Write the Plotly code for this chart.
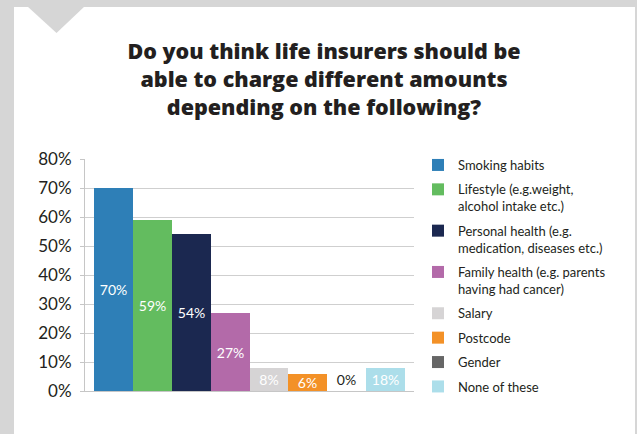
import plotly.graph_objects as go

# ---- data ----
categories = ["Smoking habits",
              "Lifestyle (e.g.weight,<br>alcohol intake etc.)",
              "Personal health (e.g.<br>medication, diseases etc.)",
              "Family health (e.g. parents<br>having had cancer)",
              "Salary", "Postcode", "Gender", "None of these"]
values = [70, 59, 54, 27, 8, 6, 0, 8]          # bar heights as drawn
labels = ["70%", "59%", "54%", "27%", "8%", "6%", "0%", "18%"]  # printed labels
colors = ["#2e7fb7", "#63bc5f", "#1b2850", "#b36aa9", "#d6d4d5",
          "#f39127", "#666666", "#acdeea"]
label_colors = ["white"] * 6 + ["#231f20", "white"]
y_ticks = [0, 10, 20, 30, 40, 50, 60, 70, 80]
y_ticklabels = [f"{t}%" for t in y_ticks]

FONT = "Lato, 'Open Sans', sans-serif"
TITLE_FONT = "'Open Sans', Lato, sans-serif"
TXT = "#231f20"
BORDER = "#d6d6d6"

# pixel geometry of plot area
W, H = 637, 434
L, R, T, B = 85, 414, 159, 391

def px(x):
    return (x - L) / (R - L)

def py(y):
    return (B - y) / (B - T)

fig = go.Figure()
for i, (cat, v, lab, c, lc) in enumerate(zip(categories, values, labels, colors, label_colors)):
    fig.add_trace(go.Bar(
        x=[i], y=[v], width=[1], name=cat, legendgroup=str(i),
        marker=dict(color=c, line=dict(width=0)),
        text=[lab],
        textposition="outside" if v == 0 else "inside",
        insidetextanchor="middle",
        constraintext="none",
        textangle=0,
        textfont=dict(family=FONT, size=14, color=lc),
        cliponaxis=False,
        hoverinfo="skip",
    ))

shapes = [
    # white panel
    dict(type="rect", xref="paper", yref="paper", layer="below",
         x0=px(14), x1=px(635), y0=py(7), y1=py(H + 5),
         fillcolor="white", line=dict(width=0)),
    # notch
    dict(type="path", xref="paper", yref="paper", layer="below",
         path=f"M{px(27)},{py(6)} L{px(85)},{py(6)} L{px(56.5)},{py(33)} Z",
         fillcolor=BORDER, line=dict(width=0)),
]

fig.update_layout(
    width=W, height=H,
    margin=dict(l=L, r=W - R, t=T, b=H - B, pad=0, autoexpand=False),
    paper_bgcolor=BORDER, plot_bgcolor="rgba(0,0,0,0)",
    barmode="overlay", bargap=0,
    shapes=shapes,
    title=dict(text="Do you think life insurers should be<br>able to charge different amounts<br>depending on the following?",
               x=px(324), xref="paper", xanchor="center",
               y=1 - 59 / H, yref="container", yanchor="top",
               font=dict(family=TITLE_FONT, size=21.5, color=TXT, weight=800)),
    showlegend=True,
    legend=dict(x=px(418), xanchor="left", y=py(150),
                yanchor="top", maxheight=320,
                font=dict(family=FONT, size=13, color=TXT),
                bgcolor="rgba(0,0,0,0)", tracegroupgap=4.5, valign="top",
                itemclick=False, itemdoubleclick=False),
    xaxis=dict(range=[-0.731, 7.731], showticklabels=False, showgrid=False,
               zeroline=False, showline=True, linecolor="#c6c6c6", linewidth=1,
               ticks="", fixedrange=True),
    yaxis=dict(range=[0, 80], tickvals=y_ticks, ticktext=y_ticklabels,
               showgrid=True, gridcolor="#cfcfcf", gridwidth=1,
               zeroline=False, showline=True, linecolor="#c6c6c6", linewidth=1,
               ticks="outside", ticklen=4, tickcolor="#c6c6c6",
               ticklabelstandoff=5,
               tickfont=dict(family=FONT, size=17, color=TXT), fixedrange=True),
)

fig.write_html("out.html", config={"displayModeBar": False})
